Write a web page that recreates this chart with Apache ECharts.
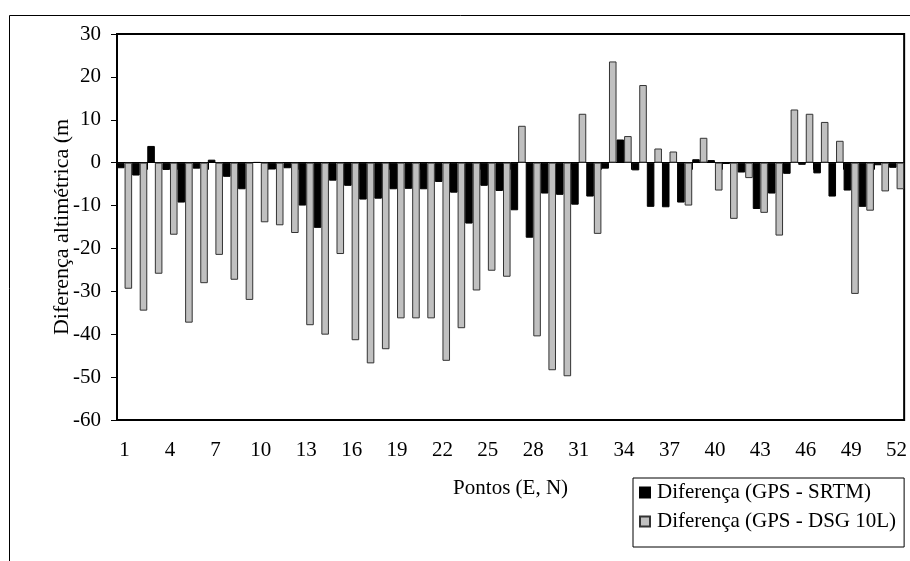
<!DOCTYPE html>
<html>
<head>
<meta charset="utf-8">
<script src="https://cdn.jsdelivr.net/npm/echarts@6/dist/echarts.min.js"></script>
<style>
  html, body { margin: 0; padding: 0; background: #fff; }
  #chart { width: 910px; height: 561px; }
</style>
</head>
<body>
<div id="chart"></div>
<script>
// pontos 1..52
var pontos = [];
for (var i = 1; i <= 52; i++) { pontos.push(String(i)); }

// Diferença (GPS - SRTM)
var difSRTM = [-1.3, -3.0, 3.9, -1.7, -9.3, -1.4, 0.7, -3.3, -6.2, 0.1,
  -1.6, -1.3, -10.0, -15.2, -4.2, -5.4, -8.6, -8.4, -6.2, -6.1,
  -6.2, -4.5, -7.0, -14.2, -5.4, -6.6, -11.1, -17.5, -7.2, -7.5,
  -9.8, -7.9, -1.4, 5.4, -1.8, -10.3, -10.4, -9.3, 0.8, 0.6,
  -0.3, -2.3, -10.8, -7.2, -2.6, -0.5, -2.5, -7.9, -6.5, -10.3,
  -0.6, -1.2];

// Diferença (GPS - DSG 10L)
var difDSG = [-29.4, -34.5, -25.9, -16.8, -37.3, -28.1, -21.5, -27.3, -32.0, -13.9,
  -14.6, -16.4, -37.9, -40.1, -21.3, -41.4, -46.8, -43.5, -36.3, -36.3,
  -36.3, -46.2, -38.6, -29.8, -25.2, -26.6, 8.6, -40.5, -48.4, -49.8,
  11.4, -16.6, 23.6, 6.2, 18.1, 3.3, 2.6, -10.0, 5.8, -6.5,
  -13.1, -3.6, -11.7, -17.0, 12.4, 11.4, 9.5, 5.1, -30.6, -11.2,
  -6.7, -6.2];

var fonte = 'Liberation Serif, Times New Roman, serif';

var myChart = echarts.init(document.getElementById('chart'));
var option = {
  animation: false,
  textStyle: { fontFamily: fonte, color: '#000' },
  graphic: [
    {
      // moldura externa do gráfico
      type: 'rect',
      shape: { x: 9.5, y: 15.5, width: 1000, height: 1000 },
      style: { fill: 'none', stroke: '#000', lineWidth: 1 },
      silent: true
    }
  ],
  grid: {
    left: 117,
    top: 34,
    width: 796,
    height: 386,
    show: true,
    borderColor: '#000',
    borderWidth: 2
  },
  legend: {
    orient: 'vertical',
    left: 633,
    top: 478,
    itemWidth: 10,
    itemHeight: 10,
    itemGap: 8,
    padding: [4, 8, 15, 6],
    borderColor: '#000',
    borderWidth: 1,
    icon: 'rect',
    textStyle: { fontFamily: fonte, fontSize: 21, color: '#000', padding: [0, 0, 0, 2] },
    data: ['Diferença (GPS - SRTM)', 'Diferença (GPS - DSG 10L)']
  },
  xAxis: [
    {
      type: 'category',
      data: pontos,
      position: 'bottom',
      name: 'Pontos (E, N)',
      nameLocation: 'middle',
      nameGap: 58,
      nameMoveOverlap: false,
      nameTextStyle: { fontFamily: fonte, fontSize: 21, color: '#000' },
      axisLine: { onZero: false, lineStyle: { color: '#000', width: 2 } },
      axisTick: { show: false },
      axisLabel: { interval: 2, margin: 20, fontFamily: fonte, fontSize: 21, color: '#000' },
      splitLine: { show: false }
    },
    {
      // linha do zero com marcas
      type: 'category',
      data: pontos,
      position: 'top',
      axisLine: { onZero: true, lineStyle: { color: '#000', width: 1 } },
      axisTick: { show: true, inside: true, length: 7, lineStyle: { color: '#000' } },
      axisLabel: { show: false },
      splitLine: { show: false }
    }
  ],
  yAxis: {
    type: 'value',
    min: -60,
    max: 30,
    interval: 10,
    name: 'Diferença altimétrica (m',
    nameLocation: 'middle',
    nameRotate: 90,
    nameGap: 44,
    nameMoveOverlap: false,
    nameTextStyle: { fontFamily: fonte, fontSize: 22, color: '#000' },
    axisLine: { show: true, lineStyle: { color: '#000', width: 2 } },
    axisTick: { show: true, length: 6, lineStyle: { color: '#000' } },
    axisLabel: { margin: 16, fontFamily: fonte, fontSize: 21, color: '#000' },
    splitLine: { show: false }
  },
  series: [
    {
      name: 'Diferença (GPS - SRTM)',
      type: 'bar',
      xAxisIndex: 0,
      data: difSRTM,
      barGap: '0%',
      barCategoryGap: '0%',
      itemStyle: { color: '#000', borderColor: '#000', borderWidth: 1 }
    },
    {
      name: 'Diferença (GPS - DSG 10L)',
      type: 'bar',
      xAxisIndex: 0,
      data: difDSG,
      barGap: '0%',
      barCategoryGap: '0%',
      itemStyle: { color: '#c0c0c0', borderColor: '#333', borderWidth: 1 }
    }
  ]
};
myChart.setOption(option);
</script>
</body>
</html>
